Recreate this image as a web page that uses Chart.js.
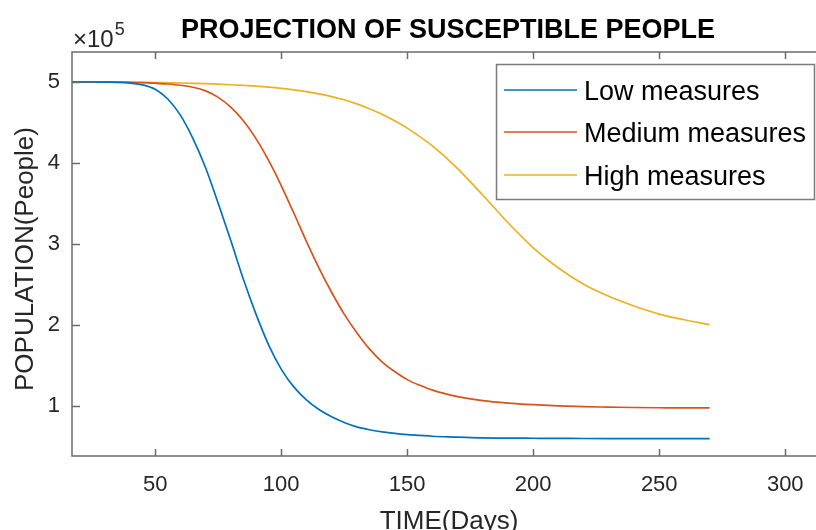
<!DOCTYPE html>
<html>
<head>
<meta charset="utf-8">
<script src="https://cdn.jsdelivr.net/npm/chart.js@4"></script>
<style>
  html, body { margin: 0; padding: 0; background: #fff; overflow: hidden; }
  #wrap { width: 816px; height: 530px; }
</style>
</head>
<body>
<div id="wrap"><canvas id="chart" width="816" height="530"></canvas></div>
<script>
// Projection of susceptible people - values in units of 10^5 people

const days = [17, 20, 25, 30, 35, 40, 45, 50, 55, 60, 65, 70, 75, 80, 85, 90, 95, 100, 105, 110,
  115, 120, 125, 130, 135, 140, 145, 150, 155, 160, 170, 180, 190, 200, 210, 220, 230, 240, 250, 260, 270];

const lowMeasures = [5.00, 5.00, 5.00, 4.998, 4.995, 4.985, 4.965, 4.91, 4.79, 4.59, 4.30, 3.94, 3.50, 3.04, 2.56, 2.13, 1.75, 1.45, 1.23, 1.07,
  0.95, 0.86, 0.79, 0.735, 0.70, 0.675, 0.655, 0.64, 0.63, 0.62, 0.61, 0.60, 0.597, 0.595, 0.593, 0.592, 0.591, 0.59, 0.59, 0.59, 0.59];

const mediumMeasures = [5.00, 5.00, 5.00, 4.999, 4.998, 4.997, 4.993, 4.985, 4.975, 4.96, 4.935, 4.89, 4.81, 4.69, 4.52, 4.30, 4.03, 3.72, 3.38, 3.03,
  2.70, 2.40, 2.13, 1.90, 1.70, 1.54, 1.42, 1.32, 1.25, 1.19, 1.11, 1.06, 1.03, 1.01, 0.995, 0.985, 0.98, 0.975, 0.972, 0.97, 0.97];

const highMeasures = [5.00, 5.00, 5.00, 5.00, 4.999, 4.998, 4.996, 4.994, 4.991, 4.988, 4.984, 4.979, 4.973, 4.966, 4.958, 4.948, 4.936, 4.921, 4.903, 4.88,
  4.853, 4.82, 4.78, 4.73, 4.67, 4.60, 4.52, 4.43, 4.325, 4.21, 3.93, 3.60, 3.26, 2.95, 2.70, 2.50, 2.35, 2.23, 2.13, 2.06, 2.00];

const xTicks = [50, 100, 150, 200, 250, 300];
const yTicks = [1, 2, 3, 4, 5];
const seriesNames = ['Low measures', 'Medium measures', 'High measures'];
const seriesColors = ['#0072BD', '#D95319', '#EDB120'];

const FONT = '"Liberation Sans", Arial, Helvetica, sans-serif';
const AXIS_COLOR = '#6b6b6b';
const TEXT_COLOR = '#262626';

function toPoints(values) {
  return days.map((d, i) => ({ x: d, y: values[i] }));
}

// Frame, inward tick marks, title, axis labels, exponent and legend (MATLAB look)
const matlabDecor = {
  id: 'matlabDecor',
  afterDatasetsDraw(chart) {
    const ctx = chart.ctx;
    const area = chart.chartArea;
    const xs = chart.scales.x;
    const ys = chart.scales.y;
    ctx.save();

    // axis box (right side falls outside the picture)
    ctx.strokeStyle = AXIS_COLOR;
    ctx.lineWidth = 1.5;
    ctx.beginPath();
    ctx.moveTo(area.right, area.top);
    ctx.lineTo(area.left, area.top);
    ctx.lineTo(area.left, area.bottom);
    ctx.lineTo(area.right, area.bottom);
    ctx.stroke();

    // tick marks pointing inward
    ctx.beginPath();
    xTicks.forEach(v => {
      const px = Math.round(xs.getPixelForValue(v)) + 0.5;
      ctx.moveTo(px, area.bottom);
      ctx.lineTo(px, area.bottom - 7);
      ctx.moveTo(px, area.top);
      ctx.lineTo(px, area.top + 7);
    });
    yTicks.forEach(v => {
      const py = Math.round(ys.getPixelForValue(v)) + 0.5;
      ctx.moveTo(area.left, py);
      ctx.lineTo(area.left + 8, py);
    });
    ctx.stroke();

    // exponent label
    ctx.fillStyle = TEXT_COLOR;
    ctx.textAlign = 'left';
    ctx.textBaseline = 'alphabetic';
    ctx.font = '24px ' + FONT;
    ctx.fillText('\u00d710', area.left + 1, 47);
    const w = ctx.measureText('\u00d710').width;
    ctx.font = '18px ' + FONT;
    ctx.fillText('5', area.left + 2 + w, 35);

    // title
    ctx.fillStyle = '#000';
    ctx.textAlign = 'center';
    ctx.font = 'bold 27px ' + FONT;
    ctx.fillText('PROJECTION OF SUSCEPTIBLE PEOPLE', 448, 38);

    // x axis label
    ctx.fillStyle = TEXT_COLOR;
    ctx.font = '26px ' + FONT;
    ctx.fillText('TIME(Days)', 449, 529);

    // y axis label
    ctx.save();
    ctx.translate(33, 259);
    ctx.rotate(-Math.PI / 2);
    ctx.fillText('POPULATION(People)', 0, 0);
    ctx.restore();

    // legend
    const box = { x: 496.5, y: 64.5, w: 318, h: 135 };
    ctx.fillStyle = '#fff';
    ctx.fillRect(box.x, box.y, box.w, box.h);
    ctx.strokeStyle = '#7a7a7a';
    ctx.lineWidth = 1.5;
    ctx.strokeRect(box.x, box.y, box.w, box.h);
    const rows = [90, 132, 175];
    ctx.font = '27px ' + FONT;
    ctx.textAlign = 'left';
    seriesNames.forEach((name, i) => {
      ctx.strokeStyle = seriesColors[i];
      ctx.lineWidth = 1.5;
      ctx.beginPath();
      ctx.moveTo(504, rows[i]);
      ctx.lineTo(577, rows[i]);
      ctx.stroke();
      ctx.fillStyle = '#000';
      ctx.fillText(name, 584, rows[i] + 10);
    });

    ctx.restore();
  }
};

const chart = new Chart(document.getElementById('chart').getContext('2d'), {
  type: 'line',
  data: {
    datasets: [
      { label: seriesNames[0], data: toPoints(lowMeasures), borderColor: seriesColors[0] },
      { label: seriesNames[1], data: toPoints(mediumMeasures), borderColor: seriesColors[1] },
      { label: seriesNames[2], data: toPoints(highMeasures), borderColor: seriesColors[2] }
    ].map(ds => Object.assign(ds, {
      borderWidth: 1.7,
      pointRadius: 0,
      fill: false,
      cubicInterpolationMode: 'monotone'
    }))
  },
  options: {
    responsive: false,
    animation: false,
    layout: { padding: { top: 52, right: 0, left: 0, bottom: 0 } },
    plugins: {
      legend: { display: false },
      title: { display: false },
      tooltip: { enabled: false }
    },
    scales: {
      x: {
        type: 'linear',
        min: 17,
        max: 312.2,
        grid: { display: false },
        border: { display: false },
        ticks: {
          color: TEXT_COLOR,
          font: { family: FONT, size: 22 },
          padding: 8,
          maxRotation: 0
        },
        afterBuildTicks: scale => { scale.ticks = xTicks.map(v => ({ value: v })); },
        afterFit: scale => { scale.height = 74; }
      },
      y: {
        type: 'linear',
        min: 0.3756,
        max: 5.371,
        grid: { display: false },
        border: { display: false },
        ticks: {
          color: TEXT_COLOR,
          font: { family: FONT, size: 22 },
          padding: 4
        },
        afterBuildTicks: scale => { scale.ticks = yTicks.map(v => ({ value: v })); },
        afterFit: scale => { scale.width = 72; }
      }
    }
  },
  plugins: [matlabDecor]
});
</script>
</body>
</html>
